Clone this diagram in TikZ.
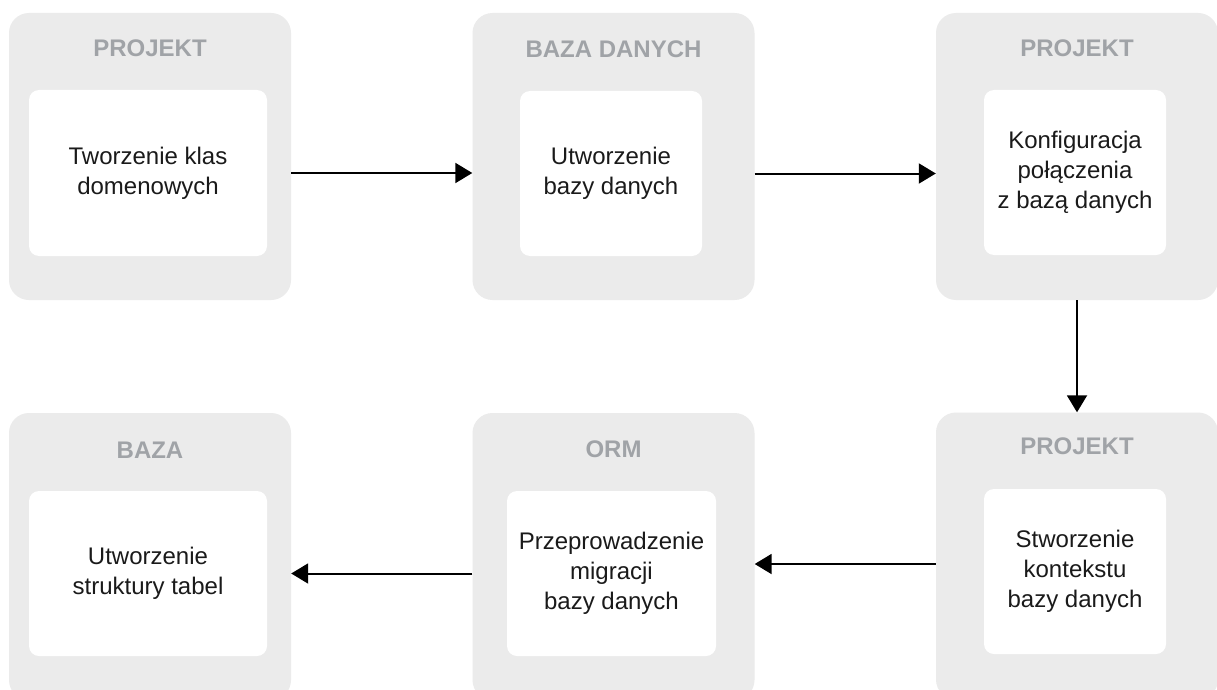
\documentclass[tikz,border=0pt]{standalone}
\usepackage{fontspec}
\setmainfont{Liberation Sans}
\usetikzlibrary{arrows.meta,calc}
\definecolor{outerfill}{HTML}{EBEBEB}
\definecolor{titlegray}{HTML}{A0A3A7}
\definecolor{textdark}{HTML}{1A1A1A}
\tikzset{
  outerbox/.style={fill=outerfill, rounded corners=20pt, minimum width=282pt, minimum height=287pt, inner sep=0pt, draw=none},
  innerbox/.style={fill=white, rounded corners=10pt, inner sep=0pt, align=center, text=textdark,
     font=\fontsize{24pt}{30pt}\selectfont},
  titletext/.style={text=titlegray, font=\fontsize{24pt}{28pt}\selectfont\bfseries, inner sep=0pt},
  flow/.style={line width=2pt, -{Triangle[length=17pt,width=20pt]}}
}
\begin{document}
\begin{tikzpicture}[x=1pt,y=-1pt]
\useasboundingbox (0,0) rectangle (1217,690);
\fill[white] (0,0) rectangle (1217,690);
\clip (0,0) rectangle (1217,690);
% outer boxes
\node[outerbox] (o1) at (150,156.5) {};
\node[outerbox] (o2) at (613.5,156.5) {};
\node[outerbox] (o3) at (1077,156.5) {};
\node[outerbox] (o4) at (150,556.5) {};
\node[outerbox] (o5) at (613.5,556.5) {};
\node[outerbox] (o6) at (1077,556) {};
% titles
\node[titletext] (t1) at (150,48) {PROJEKT};
\node[titletext] (t2) at (613.5,49) {BAZA DANYCH};
\node[titletext] (t3) at (1077,48) {PROJEKT};
\node[titletext] (t4) at (150,450) {BAZA};
\node[titletext] (t5) at (613.5,449) {ORM};
\node[titletext] (t6) at (1077,446) {PROJEKT};
% inner boxes
\node[innerbox, minimum width=238pt, minimum height=166pt] (i1) at (148,173) {Tworzenie klas\\domenowych};
\node[innerbox, minimum width=182pt, minimum height=165pt] (i2) at (611,173.5) {Utworzenie\\bazy danych};
\node[innerbox, minimum width=182pt, minimum height=165pt] (i3) at (1075,172.5) {Konfiguracja\\połączenia\\z bazą danych};
\node[innerbox, minimum width=238pt, minimum height=165pt] (i4) at (148,573.5) {Utworzenie\\struktury tabel};
\node[innerbox, minimum width=209pt, minimum height=165pt] (i5) at (611.5,573.5) {Przeprowadzenie\\migracji\\bazy danych};
\node[innerbox, minimum width=182pt, minimum height=165pt] (i6) at (1075,571.5) {Stworzenie\\kontekstu\\bazy danych};
% connectors
\draw[flow] (o1.east |- i1.center) -- (o2.west |- i1.center);
\draw[flow] (o2.east |- i2.center) -- (o3.west |- i2.center);
\draw[flow] (o3.south) -- (o6.north);
\draw[flow] ($(o6.west |- i6.center)+(0,-7.5)$) -- ($(o5.east |- i6.center)+(0,-7.5)$);
\draw[flow] (o5.west |- i5.center) -- (o4.east |- i5.center);
\end{tikzpicture}
\end{document}
